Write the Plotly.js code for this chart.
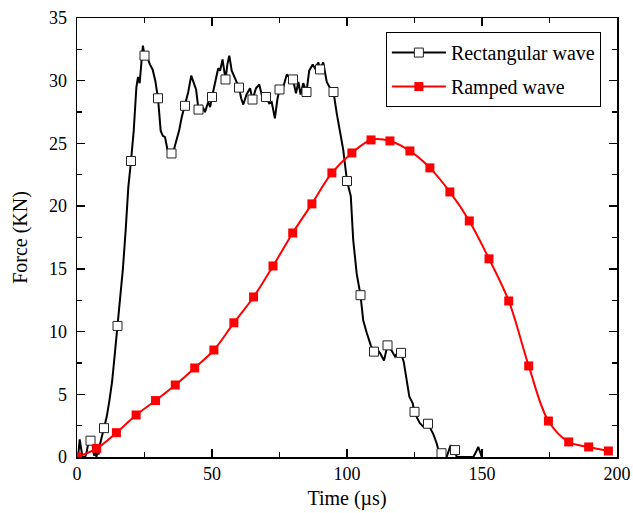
<!DOCTYPE html>
<html>
<head>
<meta charset="utf-8">
<script src="https://cdn.plot.ly/plotly-3.0.1.min.js"></script>
<style>html,body{margin:0;padding:0;background:#fff;}#chart{width:633px;height:513px;}</style>
</head>
<body>
<div id="chart"></div>
<script>
// Rectangular wave: dense measured trace (time in µs, force in KN)
var rectTime = [0,0.5,1.0,1.5,2.0,3.0,3.5,4.0,5.0,5.8,6.3,6.8,7.2,7.6,8.0,8.5,9.2,10,11,12,13,14,15,16,17,18,19,20,21,22,22.6,23.2,24.0,24.4,25,26,27,28,29,30,31,31.8,32.6,33.5,34.4,35,36,36.9,37.8,38.8,40,41.2,42.3,43,44.1,45,46,46.8,47.4,48.6,49.3,50,51.1,52.3,53,53.9,55,55.7,56.4,57.3,58.5,60,60.8,61.6,62.8,64.1,65,66.3,67.5,68.4,70,71.2,72.1,72.8,73.3,74.2,75,76.4,77.7,78.9,80,81.1,82,82.8,83.8,85,86,87.3,88.1,89.4,90,91.2,92.5,93.5,95,96.2,97.4,98.6,100,101.4,102.3,103.6,105,106,107.3,108.3,108.8,110,111,112.2,113,113.7,115,115.8,116.5,117.8,119,120,121,121.9,123.1,124.3,125,126,127,128.3,129,130,131,132,133.2,134.4,135,136,136.9,137.7,138.4,139.2,140,140.6,146.8,148.0,148.6,149.3,149.9];
var rectForce = [0,0.2,1.4,0.6,0.0,0.0,0.3,0.9,1.3,1.0,0.1,0.4,0.0,0.5,0.2,1.0,1.6,2.3,3.2,4.5,6.0,8.2,10.45,12.3,15.0,18.0,21.5,23.6,26.0,29.5,30.3,29.8,32.3,32.8,32.0,31.9,31.3,30.9,30.0,28.6,26.0,25.6,25.5,24.5,24.1,24.2,24.6,25.3,26.0,27.1,28.0,29.1,30.4,30.0,29.3,27.7,28.0,27.8,27.5,28.3,27.9,28.7,29.8,31.0,30.8,31.7,30.1,31.3,32.0,30.8,30.2,29.45,28.6,28.1,28.9,29.4,28.5,29.4,29.7,28.9,28.7,28.2,28.3,27.6,27.0,28.5,29.3,29.5,30.5,30.2,30.1,29.0,29.9,28.9,29.8,29.1,30.8,31.3,31.0,31.45,30.9,31.45,29.9,29.5,29.1,27.4,25.9,24.5,22.0,20.8,17.3,14.6,12.9,10.9,9.9,9.2,8.9,8.4,8.6,8.3,7.9,7.7,8.9,8.6,8.5,8.0,8.4,8.3,7.6,6.4,4.8,4.3,3.6,3.1,2.7,2.4,2.9,2.65,2.2,1.8,1.1,0.1,0.3,0.2,0.0,0.6,0.95,0.5,0.55,0.0,0.0,0.5,0.8,0.4,0.0];

// Rectangular wave: marked samples
var rectMarkTime = [5,10,15,20,25,30,35,40,45,50,55,60,65,70,75,80,85,90,95,100,105,110,115,120,125,130,135,140];
var rectMarkForce = [1.3,2.3,10.45,23.6,32.0,28.6,24.2,28.0,27.7,28.7,30.1,29.45,28.5,28.7,29.3,30.1,29.1,30.9,29.1,22.0,12.9,8.4,8.9,8.3,3.6,2.65,0.3,0.55];

// Ramped wave
var rampTime = [0,7.3,14.6,21.9,29.1,36.4,43.6,50.7,58.1,65.4,72.6,79.9,87.0,94.4,101.8,108.9,115.9,123.3,130.7,138.1,145.3,152.6,159.9,167.3,174.6,182.1,189.5,196.8];
var rampForce = [0,0.69,1.94,3.35,4.5,5.74,7.1,8.53,10.7,12.76,15.23,17.86,20.18,22.65,24.24,25.28,25.2,24.4,23.05,21.13,18.82,15.8,12.44,7.26,2.87,1.2,0.8,0.48];

var seriesNames = ['Rectangular wave','Ramped wave'];
var xTitle = 'Time (µs)';
var yTitle = 'Force (KN)';

var serif = 'Liberation Serif, Times New Roman, serif';

var traces = [
  {x: rectTime, y: rectForce, mode: 'lines', line: {color: '#000', width: 2}, showlegend: false, hoverinfo: 'skip'},
  {x: rectMarkTime, y: rectMarkForce, mode: 'markers', showlegend: false,
   marker: {symbol: 'square', size: 9, color: '#fff', line: {color: '#222', width: 1}}},
  {x: [null], y: [null], mode: 'lines+markers', name: seriesNames[0], legendgroup: 'a',
   line: {color: '#000', width: 2},
   marker: {symbol: 'square', size: 9, color: '#fff', line: {color: '#222', width: 1}}},
  {x: rampTime, y: rampForce, mode: 'lines+markers', name: seriesNames[1], legendgroup: 'b',
   line: {color: '#ff0000', width: 2, shape: 'spline', smoothing: 1},
   marker: {symbol: 'square', size: 9, color: '#ff0000'}}
];

var layout = {
  width: 633, height: 513,
  margin: {l: 77, r: 16, t: 18, b: 56},
  paper_bgcolor: '#fff', plot_bgcolor: '#fff',
  font: {family: serif, color: '#000', size: 18},
  showlegend: true,
  legend: {x: 0.572, y: 0.968, xanchor: 'left', yanchor: 'top',
           bordercolor: '#000', borderwidth: 1, bgcolor: '#fff',
           itemwidth: 54,
           font: {family: serif, size: 20, color: '#000'},
           traceorder: 'grouped', tracegroupgap: 5},
  xaxis: {range: [0, 200], tickvals: [0,50,100,150,200], ticktext: ['0','50','100','150','200'],
          ticks: 'inside', ticklen: 8, tickwidth: 1.3, tickcolor: '#000',
          minor: {dtick: 25, ticks: 'inside', ticklen: 5, tickwidth: 1.3, tickcolor: '#000', showgrid: false},
          showline: true, linecolor: '#000', linewidth: 1.5, mirror: 'ticks',
          showgrid: false, zeroline: false,
          tickfont: {family: serif, size: 18, color: '#000'},
          title: {text: xTitle, font: {family: serif, size: 20, color: '#000'}, standoff: 8}},
  yaxis: {range: [0, 35], tickvals: [0,5,10,15,20,25,30,35], ticktext: ['0','5','10','15','20','25','30','35'],
          ticks: 'inside', ticklen: 8, tickwidth: 1.3, tickcolor: '#000',
          minor: {dtick: 2.5, ticks: 'inside', ticklen: 5, tickwidth: 1.3, tickcolor: '#000', showgrid: false},
          showline: true, linecolor: '#000', linewidth: 1.5, mirror: 'ticks',
          showgrid: false, zeroline: false, ticklabelstandoff: 5,
          tickfont: {family: serif, size: 18, color: '#000'},
          title: {text: yTitle, font: {family: serif, size: 20, color: '#000'}, standoff: 16}}
};

Plotly.newPlot('chart', traces, layout, {displayModeBar: false, staticPlot: true});
</script>
</body>
</html>
